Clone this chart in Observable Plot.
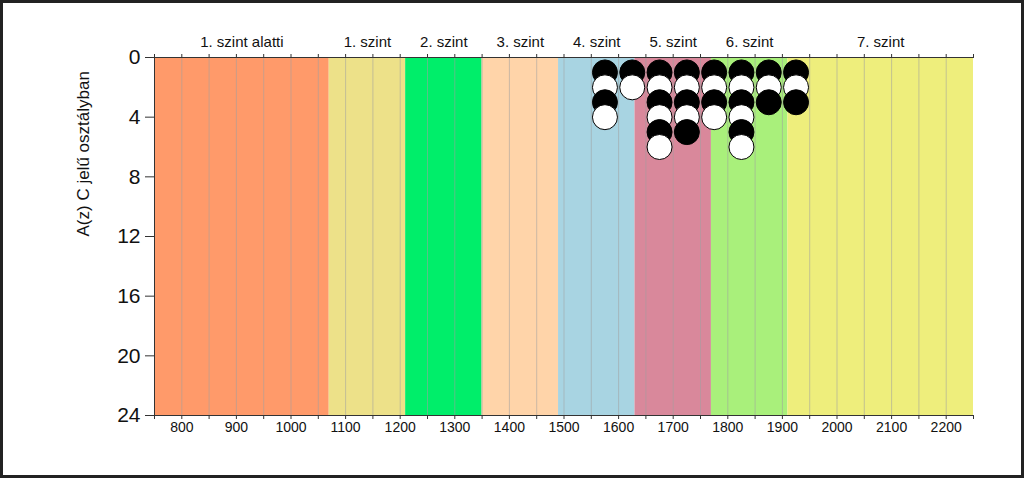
<!DOCTYPE html>
<html>
<head>
<meta charset="utf-8">
<script src="https://cdn.jsdelivr.net/npm/d3@7"></script>
<script src="https://cdn.jsdelivr.net/npm/@observablehq/plot@0.6"></script>
<style>
  body { margin: 0; background: #fff; }
  #chart svg { display: block; outline: 3px solid #222; outline-offset: -3px; }
</style>
</head>
<body>
<div id="chart"></div>
<script>
// Level bands
const bandNames = ["1. szint alatti", "1. szint", "2. szint", "3. szint", "4. szint", "5. szint", "6. szint", "7. szint"];
const bandStart = [750, 1070, 1210, 1350, 1490, 1630, 1770, 1910];
const bandEnd   = [1070, 1210, 1350, 1490, 1630, 1770, 1910, 2250];
const bandColors = ["#ff9a6a", "#ede189", "#00ee6a", "#ffd4a9", "#a8d4e2", "#d9889b", "#a9f07b", "#eeee7c"];

// Students per score bin (bin centres)
const binCenters = [1575, 1625, 1675, 1725, 1775, 1825, 1875, 1925];
const binCounts  = [4, 2, 6, 5, 4, 6, 3, 3];

const yTicks = [0, 4, 8, 12, 16, 20, 24];
const xTicks = d3.range(750, 2251, 50);
const yLabel = "A(z) C jelű osztályban";

const bands = bandNames.map((name, i) => ({name, x1: bandStart[i], x2: bandEnd[i], fill: bandColors[i]}));
const dots = [];
binCenters.forEach((x, i) => {
  for (let k = 1; k <= binCounts[i]; k++) dots.push({x, y: k, fill: k % 2 === 1 ? "black" : "white"});
});

const chart = Plot.plot({
  width: 1024,
  height: 478,
  marginLeft: 154,
  marginRight: 51,
  marginTop: 57,
  marginBottom: 63,
  style: {fontFamily: "Liberation Sans, Arial, sans-serif", color: "#111", background: "white"},
  x: {domain: [750, 2250]},
  y: {domain: [0, 24], reverse: true},
  marks: [
    Plot.rect(bands, {x1: "x1", x2: "x2", y1: 0, y2: 24, fill: "fill"}),
    Plot.ruleX(xTicks.filter(d => d > 750 && d < 2250), {y1: 0, y2: 24, stroke: "#a0a0a0", strokeOpacity: 0.55}),
    Plot.dot(dots, {x: "x", y: "y", r: 12.5, fill: "fill", stroke: "black", strokeWidth: 1}),
    Plot.ruleY([0, 24], {stroke: "#333"}),
    Plot.ruleX([750], {y1: 0, y2: 24, stroke: "#333"}),
    Plot.axisY({ticks: yTicks, tickSize: 9, tickPadding: 5, fontSize: 21, label: null, stroke: "#333"}),
    Plot.axisX({anchor: "bottom", ticks: xTicks, tickSize: 4, tickPadding: 3, fontSize: 14, label: null,
      tickFormat: d => d % 100 === 0 ? String(d) : "", stroke: "#333"}),
    Plot.axisX({anchor: "top", ticks: xTicks, tickSize: 4, tickFormat: () => "", label: null, stroke: "#333"}),
    Plot.text(bands, {x: d => (d.x1 + d.x2) / 2, frameAnchor: "top", lineAnchor: "middle", dy: -15, text: "name", fontSize: 15, fill: "#111"}),
    Plot.text([yLabel], {frameAnchor: "left", dx: -71, rotate: -90, fontSize: 17, fill: "#111"})
  ]
});
document.getElementById("chart").appendChild(chart);
</script>
</body>
</html>
